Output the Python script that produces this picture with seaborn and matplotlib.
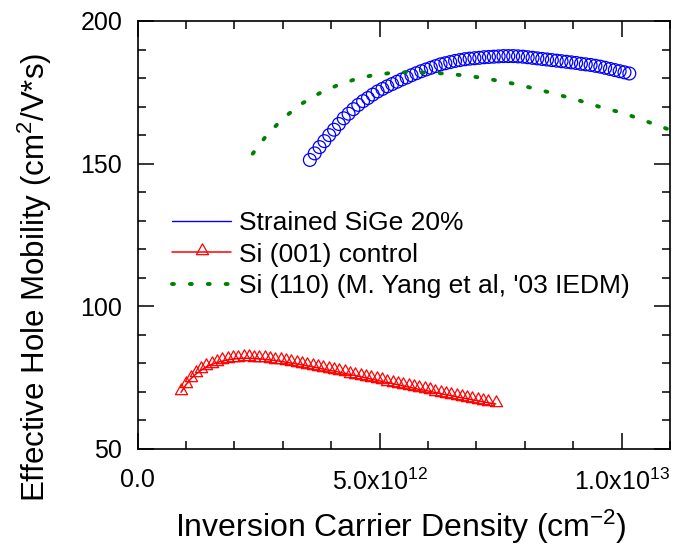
import numpy as np
import pandas as pd
import matplotlib
matplotlib.use("Agg")
import matplotlib.pyplot as plt
import seaborn as sns
from matplotlib.path import Path
from matplotlib.lines import Line2D
from matplotlib.ticker import FixedLocator, MultipleLocator

# ---------------- data (x in units of 1e12 cm^-2) ----------------
sige_x = [3.56, 3.66, 3.76, 3.86, 3.96, 4.06, 4.16, 4.26, 4.36, 4.46, 4.56, 4.66,
          4.76, 4.86, 4.96, 5.06, 5.16, 5.26, 5.36, 5.46, 5.56, 5.66, 5.76, 5.86,
          5.96, 6.06, 6.16, 6.26, 6.36, 6.46, 6.56, 6.66, 6.76, 6.86, 6.96, 7.06,
          7.16, 7.26, 7.36, 7.46, 7.56, 7.66, 7.76, 7.86, 7.96, 8.06, 8.16, 8.26,
          8.36, 8.46, 8.56, 8.66, 8.76, 8.86, 8.96, 9.06, 9.16, 9.26, 9.36, 9.46,
          9.56, 9.66, 9.76, 9.86, 9.96, 10.06, 10.16]
sige_y = [151.3, 153.6, 155.8, 157.9, 160.0, 161.9, 163.9, 165.9, 167.5, 169.1, 170.6, 171.9,
          173.0, 174.2, 175.3, 176.2, 177.1, 177.9, 178.7, 179.5, 180.2, 181.0, 181.7, 182.4,
          183.0, 183.6, 184.2, 184.8, 185.2, 185.6, 186.0, 186.3, 186.6, 186.8, 186.95, 187.1,
          187.3, 187.4, 187.5, 187.6, 187.7, 187.7, 187.7, 187.6, 187.5, 187.3, 187.1, 186.9,
          186.7, 186.5, 186.3, 186.1, 185.9, 185.7, 185.5, 185.3, 185.0, 184.8, 184.6, 184.3,
          184.0, 183.6, 183.2, 182.8, 182.4, 182.0, 181.6]

si001_x = [0.90, 1.00, 1.10, 1.21, 1.32, 1.42, 1.53, 1.64, 1.75, 1.86, 1.97, 2.08,
           2.19, 2.30, 2.41, 2.52, 2.63, 2.74, 2.85, 2.96, 3.07, 3.18, 3.29, 3.40,
           3.51, 3.62, 3.73, 3.84, 3.95, 4.06, 4.17, 4.28, 4.39, 4.50, 4.61, 4.72,
           4.83, 4.94, 5.05, 5.16, 5.27, 5.38, 5.49, 5.60, 5.71, 5.82, 5.93, 6.04,
           6.15, 6.26, 6.37, 6.48, 6.59, 6.70, 6.81, 6.92, 7.03, 7.14, 7.25, 7.40]
si001_y = [69.9, 72.5, 74.6, 76.3, 77.7, 78.8, 79.6, 80.3, 80.8, 81.2, 81.5, 81.7,
           81.8, 81.8, 81.7, 81.6, 81.4, 81.2, 81.0, 80.7, 80.4, 80.1, 79.8, 79.5,
           79.1, 78.8, 78.4, 78.0, 77.6, 77.3, 76.9, 76.5, 76.1, 75.7, 75.3, 74.9,
           74.5, 74.1, 73.7, 73.3, 72.9, 72.5, 72.1, 71.7, 71.3, 70.9, 70.6, 70.2,
           69.8, 69.4, 69.0, 68.7, 68.3, 67.9, 67.6, 67.2, 66.9, 66.5, 66.2, 65.8]

si110_x = [2.38, 2.67, 3.01, 3.38, 3.75, 4.12, 4.50, 4.86, 5.24, 5.60, 5.97, 6.34,
           6.70, 7.07, 7.44, 7.81, 8.18, 8.55, 8.92, 9.29, 9.66, 10.03, 10.40, 10.77, 11.0]
si110_y = [153.5, 160.0, 165.9, 170.9, 174.6, 177.4, 179.6, 181.0, 181.8, 182.1, 181.9, 181.6,
           181.0, 180.2, 179.1, 177.9, 176.4, 174.8, 173.1, 171.3, 169.3, 167.8, 165.5, 163.3, 161.8]

labels = ["Strained SiGe 20%", "Si (001) control", "Si (110) (M. Yang et al, '03 IEDM)"]
xtick_vals = [0.0, 5.0e12, 1.0e13]
xtick_labels = ["0.0", "5.0x10$^{12}$", "1.0x10$^{13}$"]
ytick_vals = [50, 100, 150, 200]

df_sige = pd.DataFrame({"n": np.array(sige_x) * 1e12, "mu": sige_y})
df_001 = pd.DataFrame({"n": np.array(si001_x) * 1e12, "mu": si001_y})
df_110 = pd.DataFrame({"n": np.array(si110_x) * 1e12, "mu": si110_y})

# ---------------- style ----------------
sns.set_theme(style="ticks")
plt.rcParams["font.family"] = ["Liberation Sans", "DejaVu Sans"]
plt.rcParams["mathtext.fontset"] = "custom"
plt.rcParams["mathtext.rm"] = "Liberation Sans"
plt.rcParams["mathtext.it"] = "Liberation Sans:italic"
plt.rcParams["mathtext.bf"] = "Liberation Sans:bold"
for k in ["text.color", "axes.labelcolor", "xtick.color", "ytick.color",
          "xtick.labelcolor", "ytick.labelcolor", "axes.edgecolor"]:
    plt.rcParams[k] = "black"

BLUE = "#0000ff"
RED = "#ff0000"
GREEN = "#008000"

fig = plt.figure(figsize=(6.89, 5.56), dpi=100)
ax = fig.add_axes([137.5 / 689, 1 - 449 / 556, (670 - 137.5) / 689, (449 - 21) / 556])

tri = Path([(0, 1.0), (-0.7, -0.25), (0.7, -0.25), (0, 1.0)],
           [Path.MOVETO, Path.LINETO, Path.LINETO, Path.CLOSEPOLY])
dot_style = (0, (0.5, 4.1))
TRI_MS = 12.5

sns.lineplot(data=df_110, x="n", y="mu", ax=ax, color=GREEN, linewidth=2.8,
             linestyle=dot_style, dash_capstyle="round", sort=False, estimator=None)
sns.lineplot(data=df_001, x="n", y="mu", ax=ax, color=RED, linewidth=1.1,
             marker=tri, markersize=TRI_MS, markerfacecolor="none",
             markeredgecolor=RED, markeredgewidth=0.9, sort=False, estimator=None)
sns.scatterplot(data=df_sige, x="n", y="mu", ax=ax, s=85, facecolor="none",
                edgecolor=BLUE, linewidth=0.9)

ax.set_xlim(0, 1.1e13)
ax.set_ylim(50, 200)
ax.xaxis.set_major_locator(FixedLocator(xtick_vals))
ax.set_xticklabels(xtick_labels)
ax.xaxis.set_minor_locator(MultipleLocator(1e12))
ax.yaxis.set_major_locator(FixedLocator(ytick_vals))
ax.yaxis.set_minor_locator(MultipleLocator(10))

ax.tick_params(which="both", direction="in", top=True, right=True, colors="black",
               labelcolor="black", width=1.1, labelsize=18)
ax.tick_params(which="major", length=11.5)
ax.tick_params(which="minor", length=5.8)
ax.tick_params(axis="x", which="major", pad=14)
ax.tick_params(axis="y", which="major", pad=11)
for s in ax.spines.values():
    s.set_linewidth(1.2)
    s.set_color("black")

ax.set_xlabel("Inversion Carrier Density (cm$^{-2}$)", fontsize=23, color="black")
ax.xaxis.set_label_coords((401 - 137.5) / 532.5, -(527 - 449) / 428)
ax.xaxis.label.set_va("center")
ax.set_ylabel("Effective Hole Mobility (cm$^{2}$/V*s)", fontsize=22.5, color="black")
ax.yaxis.set_label_coords((35 - 137.5) / 532.5, (449 - 277) / 428)
ax.yaxis.label.set_va("center")

handles = [
    Line2D([], [], color=BLUE, linewidth=1.0),
    Line2D([], [], color=RED, linewidth=1.1, marker=tri, markersize=TRI_MS,
           markerfacecolor="none", markeredgecolor=RED, markeredgewidth=0.9),
    Line2D([], [], color=GREEN, linewidth=2.8, linestyle=dot_style, dash_capstyle="round"),
]
leg = ax.legend(handles, labels, loc="upper left",
                bbox_to_anchor=(172 / 689, 1 - 211 / 556), bbox_transform=fig.transFigure,
                frameon=False, fontsize=19, handlelength=2.25, handletextpad=0.3,
                labelspacing=0.29, borderpad=0, borderaxespad=0)
for t in leg.get_texts():
    t.set_color("black")

fig.savefig("out.png", dpi=100)
